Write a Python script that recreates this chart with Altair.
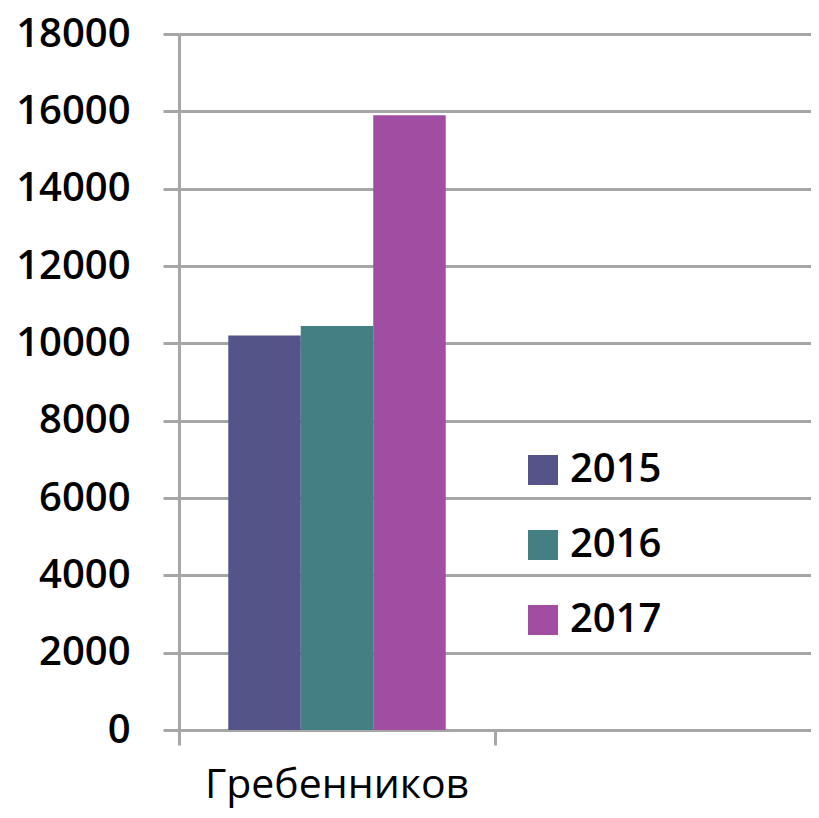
import altair as alt
import pandas as pd

categories = ["Гребенников", " "]
years = ["2015", "2016", "2017"]
values = [10200, 10450, 15900]
colors = ["#545489", "#437F83", "#A14DA1"]
y_ticks = list(range(0, 18001, 2000))

df = pd.DataFrame({
    "name": [categories[0]] * len(years),
    "year": years,
    "value": values,
})

grey = "#A6A6A6"

chart = alt.Chart(df).mark_bar().encode(
    x=alt.X(
        "name:N",
        scale=alt.Scale(domain=categories, paddingInner=0, paddingOuter=0),
        axis=alt.Axis(
            title=None, labelAngle=0, bandPosition=0, labelLimit=0,
            tickColor=grey, tickWidth=3, tickSize=15, domainColor=grey,
            domainWidth=3, labelFont="Open Sans", labelFontSize=41,
            labelColor="#000000", labelPadding=20, grid=False,
        ),
    ),
    xOffset=alt.XOffset("year:N", scale=alt.Scale(paddingOuter=0.68, paddingInner=0)),
    y=alt.Y(
        "value:Q",
        scale=alt.Scale(domain=[0, 18000], nice=False),
        axis=alt.Axis(
            title=None, values=y_ticks, format="d", grid=True, gridColor=grey, gridWidth=3,
            tickColor=grey, tickWidth=3, tickSize=16, domainColor=grey,
            domainWidth=3, labelFont="Open Sans", labelFontSize=40,
            labelFontWeight=600, labelColor="#000000", labelPadding=33,
        ),
    ),
    color=alt.Color(
        "year:N",
        scale=alt.Scale(domain=years, range=colors),
        legend=alt.Legend(
            title=None, orient="none", legendX=344, legendY=416,
            symbolType="square", symbolSize=900, symbolStrokeWidth=0,
            symbolOpacity=1, labelFont="Open Sans", labelFontSize=40,
            labelFontWeight=600, labelColor="#000000", labelOffset=7,
            rowPadding=35, padding=0,
        ),
    ),
).properties(width=632, height=696, padding={"left": 7, "top": 6, "right": 0, "bottom": 6}).configure_view(stroke=None)

chart.save("out.html", embed_options={"renderer": "svg", "actions": False})
